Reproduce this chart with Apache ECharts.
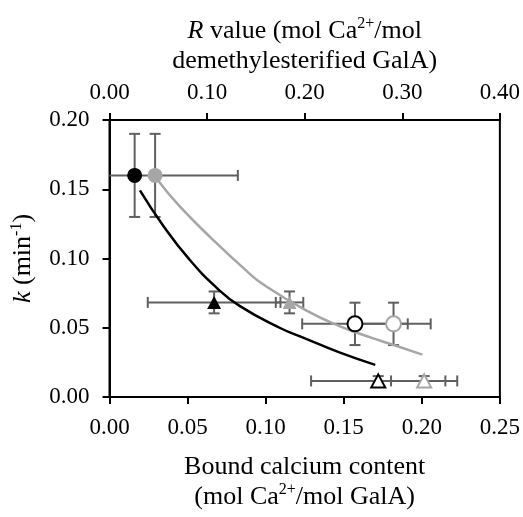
<!DOCTYPE html>
<html>
<head>
<meta charset="utf-8">
<script src="https://cdn.jsdelivr.net/npm/echarts@6/dist/echarts.min.js"></script>
<style>
  html, body { margin: 0; padding: 0; background: #fff; }
  #chart { width: 523px; height: 517px; }
</style>
</head>
<body>
<div id="chart"></div>
<script>
// Rate constant k versus bound calcium content (two sample sets: black and grey)
const xBlack    = [0.0161, 0.0670, 0.1572, 0.1721];
const yBlack    = [0.1600, 0.0683, 0.0528, 0.0116];
const xErrBlack = [0.0000, 0.0425, 0.0338, 0.0430];
const yErrBlack = [0.0300, 0.0079, 0.0153, 0.0035];

const xGray     = [0.0292, 0.1153, 0.1819, 0.2015];
const yGray     = [0.1600, 0.0683, 0.0528, 0.0116];
const xErrGray  = [0.0530, 0.0088, 0.0238, 0.0212];
const yErrGray  = [0.0300, 0.0079, 0.0153, 0.0035];

// fitted decay curves
const blackFitX = [0.0195, 0.0344, 0.0514, 0.0685, 0.0833, 0.1089, 0.1259, 0.1472, 0.1702];
const blackFitY = [0.1492, 0.1237, 0.0990, 0.0790, 0.0658, 0.0500, 0.0420, 0.0322, 0.0232];
const grayFitX  = [0.0312, 0.0450, 0.0663, 0.0876, 0.0982, 0.1259, 0.1472, 0.1685, 0.1791, 0.2004];
const grayFitY  = [0.1561, 0.1376, 0.1135, 0.0912, 0.0815, 0.0625, 0.0512, 0.0425, 0.0386, 0.0306];

// axis ticks
const bottomTicks = [0, 0.05, 0.10, 0.15, 0.20, 0.25];
const topTicks    = [0, 0.10, 0.20, 0.30, 0.40];
const leftTicks   = [0, 0.05, 0.10, 0.15, 0.20];

const FONT = 'Liberation Serif';
const BLACK = '#000000';
const GRAY = '#a6a6a6';
const ERR = '#606060';

// marker style per point index: filled circle, filled triangle, open circle, open triangle
const shapes = ['circle', 'triangle', 'circle', 'triangle'];
const filled = [true, true, false, false];

function errRows(xs, ys, xe, ye) {
  return xs.map((x, i) => [x, ys[i], xe[i], ye[i]]);
}

function renderErr(params, api) {
  const x = api.value(0), y = api.value(1), xe = api.value(2), ye = api.value(3);
  const cap = 5.5;
  const style = { stroke: ERR, lineWidth: 2, fill: null };
  const kids = [];
  const line = (x1, y1, x2, y2) => kids.push({ type: 'line', shape: { x1, y1, x2, y2 }, style });
  if (xe > 0) {
    const lo = Math.max(x - xe, bottomTicks[0]);
    const l = api.coord([lo, y]);
    const r = api.coord([x + xe, y]);
    line(l[0], l[1], r[0], r[1]);
    if (x - xe >= bottomTicks[0]) line(l[0], l[1] - cap, l[0], l[1] + cap);
    line(r[0], r[1] - cap, r[0], r[1] + cap);
  }
  if (ye > 0) {
    const t = api.coord([x, y + ye]);
    const b = api.coord([x, y - ye]);
    line(t[0], t[1], b[0], b[1]);
    line(t[0] - cap, t[1], t[0] + cap, t[1]);
    line(b[0] - cap, b[1], b[0] + cap, b[1]);
  }
  return { type: 'group', children: kids };
}

function markerSeries(xs, ys, color, idx) {
  const isTri = shapes[idx] === 'triangle';
  return {
    type: 'scatter',
    xAxisIndex: 0, yAxisIndex: 0,
    symbol: shapes[idx],
    symbolSize: isTri ? [14, 13] : 15,
    data: [[xs[idx], ys[idx]]],
    itemStyle: filled[idx]
      ? { color: color, borderWidth: 0, opacity: 1 }
      : { color: '#ffffff', borderColor: color, borderWidth: 2, opacity: 1 },
    z: 5,
    silent: true
  };
}

const richTitle = {
  sup: { fontFamily: FONT, fontSize: 16, color: BLACK, verticalAlign: 'top', lineHeight: 16 },
  it: { fontFamily: FONT, fontSize: 26, fontStyle: 'italic', color: BLACK }
};

const axisCommon = {
  type: 'value',
  axisLine: { show: true, onZero: false, lineStyle: { color: BLACK, width: 2 } },
  axisTick: { show: true, inside: false, length: 7, lineStyle: { color: BLACK, width: 2 } },
  splitLine: { show: false },
  axisLabel: { fontFamily: FONT, fontSize: 23, color: BLACK, formatter: v => v.toFixed(2) },
  nameTextStyle: { fontFamily: FONT, fontSize: 26, color: BLACK, lineHeight: 30, rich: richTitle }
};

const series = [
  {
    type: 'custom', xAxisIndex: 0, yAxisIndex: 0, clip: true, silent: true, z: 2,
    renderItem: renderErr,
    data: errRows(xBlack, yBlack, xErrBlack, yErrBlack)
  },
  {
    type: 'custom', xAxisIndex: 0, yAxisIndex: 0, clip: true, silent: true, z: 2,
    renderItem: renderErr,
    data: errRows(xGray, yGray, xErrGray, yErrGray)
  },
  {
    type: 'line', xAxisIndex: 0, yAxisIndex: 0, smooth: 0.5,
    showSymbol: false, symbol: 'none',
    lineStyle: { color: BLACK, width: 2.5 }, z: 3, silent: true,
    data: blackFitX.map((x, i) => [x, blackFitY[i]])
  },
  {
    type: 'line', xAxisIndex: 0, yAxisIndex: 0, smooth: 0.5,
    showSymbol: false, symbol: 'none',
    lineStyle: { color: GRAY, width: 2.5 }, z: 3, silent: true,
    data: grayFitX.map((x, i) => [x, grayFitY[i]])
  }
];
for (let i = 0; i < xBlack.length; i++) {
  series.push(markerSeries(xGray, yGray, GRAY, i));
  series.push(markerSeries(xBlack, yBlack, BLACK, i));
}

const chart = echarts.init(document.getElementById('chart'), null, { renderer: 'canvas' });
chart.setOption({
  animation: false,
  backgroundColor: '#ffffff',
  grid: {
    left: 109.5, right: 22, top: 120, bottom: 108.5,
    show: true, borderColor: BLACK, borderWidth: 2, backgroundColor: 'transparent'
  },
  xAxis: [
    Object.assign({}, axisCommon, {
      position: 'bottom',
      min: bottomTicks[0], max: bottomTicks[bottomTicks.length - 1], interval: bottomTicks[1] - bottomTicks[0],
      name: 'Bound calcium content\n(mol Ca{sup|2+}/mol GalA)',
      nameLocation: 'middle', nameGap: 55,
      axisLabel: Object.assign({}, axisCommon.axisLabel, { margin: 19 })
    }),
    Object.assign({}, axisCommon, {
      position: 'top',
      min: topTicks[0], max: topTicks[topTicks.length - 1], interval: topTicks[1] - topTicks[0],
      name: '{it|R} value (mol Ca{sup|2+}/mol\ndemethylesterified GalA)',
      nameLocation: 'middle', nameGap: 44,
      axisLabel: Object.assign({}, axisCommon.axisLabel, { margin: 16 })
    })
  ],
  yAxis: [
    Object.assign({}, axisCommon, {
      position: 'left',
      min: leftTicks[0], max: leftTicks[leftTicks.length - 1], interval: leftTicks[1] - leftTicks[0],
      name: '{it|k} (min{sup|-1})',
      nameLocation: 'middle', nameGap: 71, nameRotate: 90,
      axisLabel: Object.assign({}, axisCommon.axisLabel, { margin: 20 })
    })
  ],
  series: series
});
</script>
</body>
</html>
